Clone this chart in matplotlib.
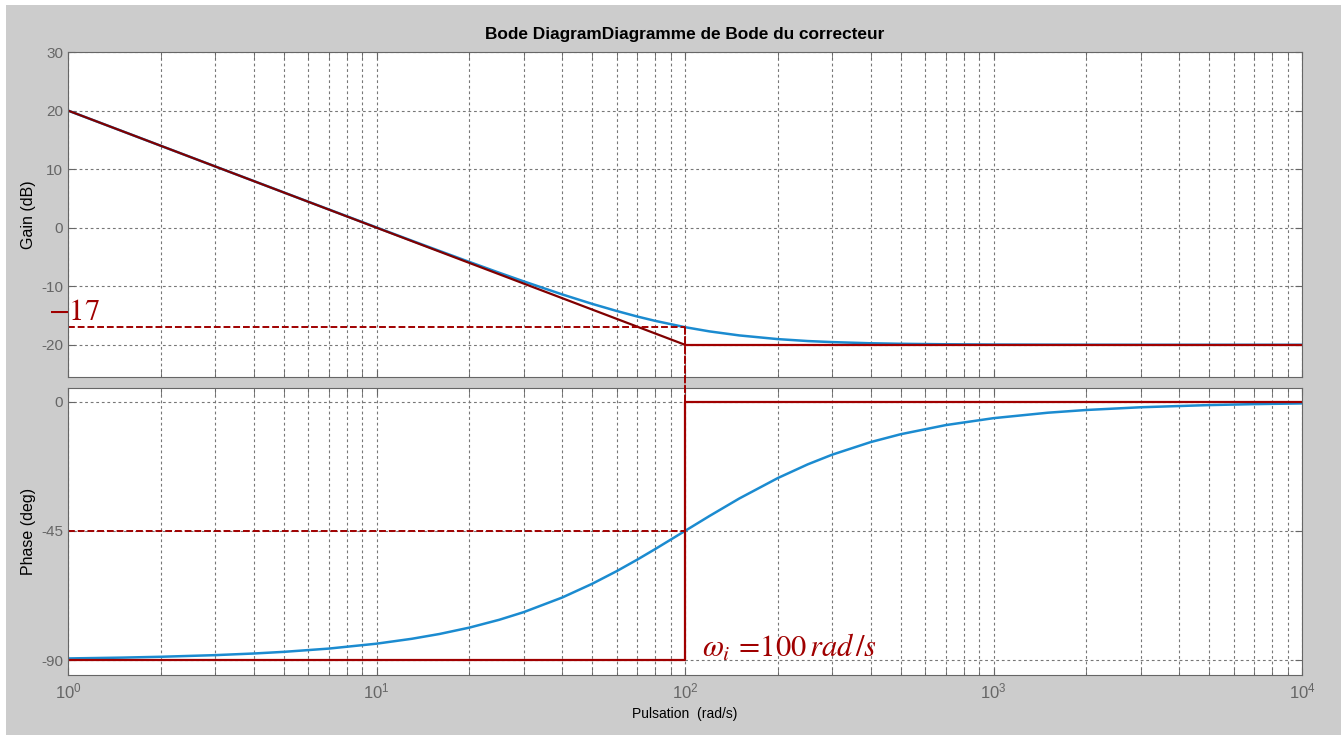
import numpy as np
import matplotlib
matplotlib.use("Agg")
import matplotlib.pyplot as plt
from matplotlib.patches import Rectangle, ConnectionPatch
from matplotlib.ticker import LogLocator, FixedLocator, NullFormatter

plt.rcParams['font.family'] = ['Liberation Sans', 'DejaVu Sans']
plt.rcParams['mathtext.fontset'] = 'custom'
plt.rcParams['mathtext.rm'] = 'Liberation Sans'
plt.rcParams['mathtext.it'] = 'Liberation Sans:italic'
plt.rcParams['axes.unicode_minus'] = False

# corrector response
freq = [1, 1.5, 2, 3, 4, 5, 7, 10, 13, 16, 20, 25, 30, 40, 50, 60, 70, 80,
        100, 120, 150, 200, 250, 300, 400, 500, 700, 1000, 1500, 2000, 3000,
        5000, 7000, 10000]
gain_db = [20.0, 16.48, 13.98, 10.46, 7.97, 6.03, 3.12, 0.04, -2.21, -3.97,
           -5.85, -7.70, -9.17, -11.40, -13.01, -14.22, -15.17, -15.91,
           -16.99, -17.71, -18.40, -19.03, -19.36, -19.54, -19.74, -19.83,
           -19.91, -19.96, -19.98, -19.99, -20.0, -20.0, -20.0, -20.0]
phase_deg = [-89.43, -89.14, -88.85, -88.28, -87.71, -87.14, -86.0, -84.29,
             -82.59, -80.91, -78.69, -75.96, -73.30, -68.20, -63.43, -59.04,
             -55.01, -51.34, -45.0, -39.81, -33.69, -26.57, -21.80, -18.43,
             -14.04, -11.31, -8.13, -5.71, -3.81, -2.86, -1.91, -1.15, -0.82,
             -0.57]

# asymptotes
asym_w = [1, 100, 10000]
asym_gain = [20, -20, -20]
asym_pw = [1, 100, 100, 10000]
asym_phase = [-90, -90, 0, 0]

w_i = 100
gain_at_wi = -17
phase_at_wi = -45

gain_ticks = [30, 20, 10, 0, -10, -20]
phase_ticks = [0, -45, -90]
x_ticks = [1, 10, 100, 1000, 10000]
x_labels = ['$10^0$', '$10^1$', '$10^2$', '$10^3$', '$10^4$']

blue = '#1b8bd0'
dark_red = '#800000'
red = '#a00000'
gray_txt = '#666666'

fig = plt.figure(figsize=(13.41, 7.35), dpi=100)
fig.patch.set_facecolor('white')
fig.add_artist(Rectangle((6 / 1341, 0), 1, 1 - 5 / 735, transform=fig.transFigure,
                         facecolor='#cccccc', edgecolor='none', zorder=-10))

ax1 = fig.add_axes([68 / 1341, 1 - 377 / 735, 1234 / 1341, 325 / 735])
ax2 = fig.add_axes([68 / 1341, 1 - 675 / 735, 1234 / 1341, 287 / 735], sharex=ax1)

for ax in (ax1, ax2):
    ax.set_xscale('log')
    ax.set_xlim(1, 10000)
    ax.set_facecolor('white')
    ax.xaxis.set_major_locator(FixedLocator(x_ticks))
    ax.xaxis.set_minor_locator(LogLocator(base=10, subs=np.arange(2, 10)))
    ax.xaxis.set_minor_formatter(NullFormatter())
    ax.grid(True, which='both', color='#777777', lw=0.8, linestyle=(0, (2.5, 2.5)))
    ax.tick_params(which='both', direction='in', top=True, right=True,
                   length=5, color='#666666', labelcolor=gray_txt, labelsize=11)
    for s in ax.spines.values():
        s.set_color('#666666')

# gain
ax1.plot(freq, gain_db, color=blue, lw=1.8)
ax1.plot(asym_w[:2], asym_gain[:2], color=dark_red, lw=1.6)
ax1.plot(asym_w[1:], asym_gain[1:], color=red, lw=1.6)
ax1.plot([1, w_i], [gain_at_wi, gain_at_wi], color=red, lw=1.4,
         linestyle=(0, (3.5, 1.5)))
ax1.set_ylim(-25.5, 30)
ax1.set_yticks(gain_ticks)
ax1.tick_params(labelbottom=False)
ax1.set_ylabel('Gain (dB)', fontsize=11.5, color='black', labelpad=4)
ax1.annotate(r'$-17$', xy=(1, gain_at_wi), xytext=(-14.4, 5),
             textcoords='offset points', ha='left', va='baseline',
             fontsize=22, color=red, math_fontfamily='stix', annotation_clip=False)

# phase
ax2.plot(freq, phase_deg, color=blue, lw=1.8)
ax2.plot(asym_pw, asym_phase, color=red, lw=1.6)
ax2.plot([1, w_i], [phase_at_wi, phase_at_wi], color=red, lw=1.4,
         linestyle=(0, (3.5, 1.5)))
ax2.set_ylim(-95.2, 4.8)
ax2.set_yticks(phase_ticks)
ax2.set_xticklabels(x_labels)
ax2.tick_params(axis='x', which='major', pad=5, labelsize=12)
ax2.set_ylabel('Phase (deg)', fontsize=11.5, color='black', labelpad=4)
ax2.set_xlabel('Pulsation  (rad/s)', fontsize=10, color='black', labelpad=4)
ax2.annotate(r'$\omega_i\,=\!100\,rad\,/s$', xy=(w_i, -90), xytext=(12, 2),
             textcoords='offset points', ha='left', va='baseline',
             fontsize=22, color=red, math_fontfamily='stix')

# dashed link from gain -17 to phase 0 at w_i
con = ConnectionPatch(xyA=(w_i, gain_at_wi), coordsA=ax1.transData,
                      xyB=(w_i, 0), coordsB=ax2.transData,
                      color=red, lw=1.4, linestyle=(0, (3.5, 1.5)))
fig.add_artist(con)

fig.text(685 / 1341, 1 - 35 / 735, 'Bode DiagramDiagramme de Bode du correcteur',
         ha='center', va='center', fontsize=12.4, fontweight='bold')

fig.savefig('out.png', dpi=100)
